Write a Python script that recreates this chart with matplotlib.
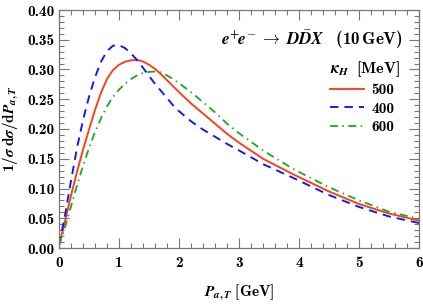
import matplotlib
matplotlib.use('Agg')
import matplotlib.pyplot as plt
from matplotlib.ticker import MultipleLocator, FormatStrFormatter

plt.rcParams['font.family'] = 'cmb10'
plt.rcParams['mathtext.fontset'] = 'custom'
plt.rcParams['mathtext.rm'] = 'cmb10'
plt.rcParams['mathtext.bf'] = 'cmb10'
plt.rcParams['mathtext.it'] = 'STIXGeneral:italic:bold'
plt.rcParams['axes.unicode_minus'] = False

# ---- data ----
x_500 = [0.0, 0.1, 0.2, 0.3, 0.4, 0.5, 0.6, 0.7, 0.8, 0.9, 1.0, 1.1, 1.2, 1.3, 1.4, 1.5, 1.6, 1.7, 1.8, 1.9,
         2.0, 2.2, 2.4, 2.6, 2.8, 3.0, 3.4, 3.9, 4.5, 5.0, 5.5, 6.0]
y_500 = [0.004, 0.045, 0.088, 0.128, 0.165, 0.199, 0.232, 0.261, 0.284, 0.299, 0.308, 0.313, 0.3155, 0.316, 0.3135,
         0.308, 0.301, 0.292, 0.282, 0.272, 0.262, 0.243, 0.226, 0.209, 0.192, 0.177, 0.150, 0.124, 0.095, 0.074,
         0.058, 0.046]

x_400 = [0.0, 0.1, 0.2, 0.3, 0.4, 0.5, 0.6, 0.7, 0.8, 0.9, 1.0, 1.1, 1.2, 1.3, 1.4, 1.5, 1.6, 1.7, 1.8, 1.9,
         2.0, 2.2, 2.4, 2.6, 2.8, 3.0, 3.4, 3.9, 4.5, 5.0, 5.5, 6.0]
y_400 = [0.005, 0.055, 0.113, 0.168, 0.215, 0.254, 0.287, 0.313, 0.331, 0.340, 0.341, 0.336, 0.327, 0.316, 0.303,
         0.289, 0.276, 0.264, 0.252, 0.240, 0.230, 0.213, 0.199, 0.187, 0.175, 0.164, 0.141, 0.118, 0.089, 0.069,
         0.053, 0.042]

x_600 = [0.0, 0.1, 0.2, 0.3, 0.4, 0.5, 0.6, 0.7, 0.8, 0.9, 1.0, 1.1, 1.2, 1.3, 1.4, 1.5, 1.6, 1.7, 1.8, 1.9,
         2.0, 2.2, 2.4, 2.6, 2.8, 3.0, 3.4, 3.9, 4.5, 5.0, 5.5, 6.0]
y_600 = [0.004, 0.035, 0.070, 0.105, 0.138, 0.168, 0.195, 0.218, 0.238, 0.254, 0.266, 0.276, 0.284, 0.290, 0.294,
         0.296, 0.2965, 0.295, 0.290, 0.284, 0.277, 0.262, 0.245, 0.228, 0.209, 0.193, 0.164, 0.133, 0.102, 0.080,
         0.061, 0.049]

labels = ['500', '400', '600']

fig = plt.figure(figsize=(4.23, 3.08), dpi=100)
ax = fig.add_axes([59/423, 60/308, 360/423, 238/308])

ax.plot(x_500, y_500, color='#ff3b14', lw=1.35, ls='-', label=labels[0])
ax.plot(x_400, y_400, color='#0a14ff', lw=1.35, dashes=(4.5, 3.2), label=labels[1])
ax.plot(x_600, y_600, color='#1faa1f', lw=1.35, dashes=(4.2, 2.4, 0.8, 2.4), label=labels[2])

ax.set_xlim(0, 6)
ax.set_ylim(0, 0.40)
ax.xaxis.set_major_locator(MultipleLocator(1))
ax.xaxis.set_minor_locator(MultipleLocator(0.2))
ax.yaxis.set_major_locator(MultipleLocator(0.05))
ax.yaxis.set_minor_locator(MultipleLocator(0.01))
ax.yaxis.set_major_formatter(FormatStrFormatter('%.2f'))
ax.xaxis.set_major_formatter(FormatStrFormatter('%d'))

tick_col = '#777777'
ax.tick_params(which='both', direction='in', top=True, right=True, color=tick_col, labelsize=11, width=0.8)
ax.tick_params(which='major', length=7)
ax.tick_params(which='minor', length=3.5)
ax.tick_params(axis='x', pad=6)
for s in ax.spines.values():
    s.set_color(tick_col)
    s.set_linewidth(0.9)

ax.set_xlabel(r'$P_{a,T}\ [\mathrm{GeV}]$', fontsize=11, labelpad=9)
ax.set_ylabel(r'$1/\sigma\;\mathrm{d}\sigma/\mathrm{d}P_{a,T}$', fontsize=11, labelpad=4)

ax.text(0.955, 0.874, r'$e^{+}\!e^{-}\;\to\;D\bar{D}X\ \ \ (\mathrm{10\,GeV})$', transform=ax.transAxes,
        ha='right', va='center', fontsize=12.3)

leg = ax.legend(title=r'$\kappa_H\ \ [\mathrm{MeV}]$', loc='upper left', bbox_to_anchor=(0.753, 0.795),
                frameon=False, fontsize=11, title_fontsize=11.5, handlelength=2.2, handletextpad=0.5,
                labelspacing=0.3, borderpad=0, borderaxespad=0, alignment='left')

fig.savefig('out.png', dpi=100)
